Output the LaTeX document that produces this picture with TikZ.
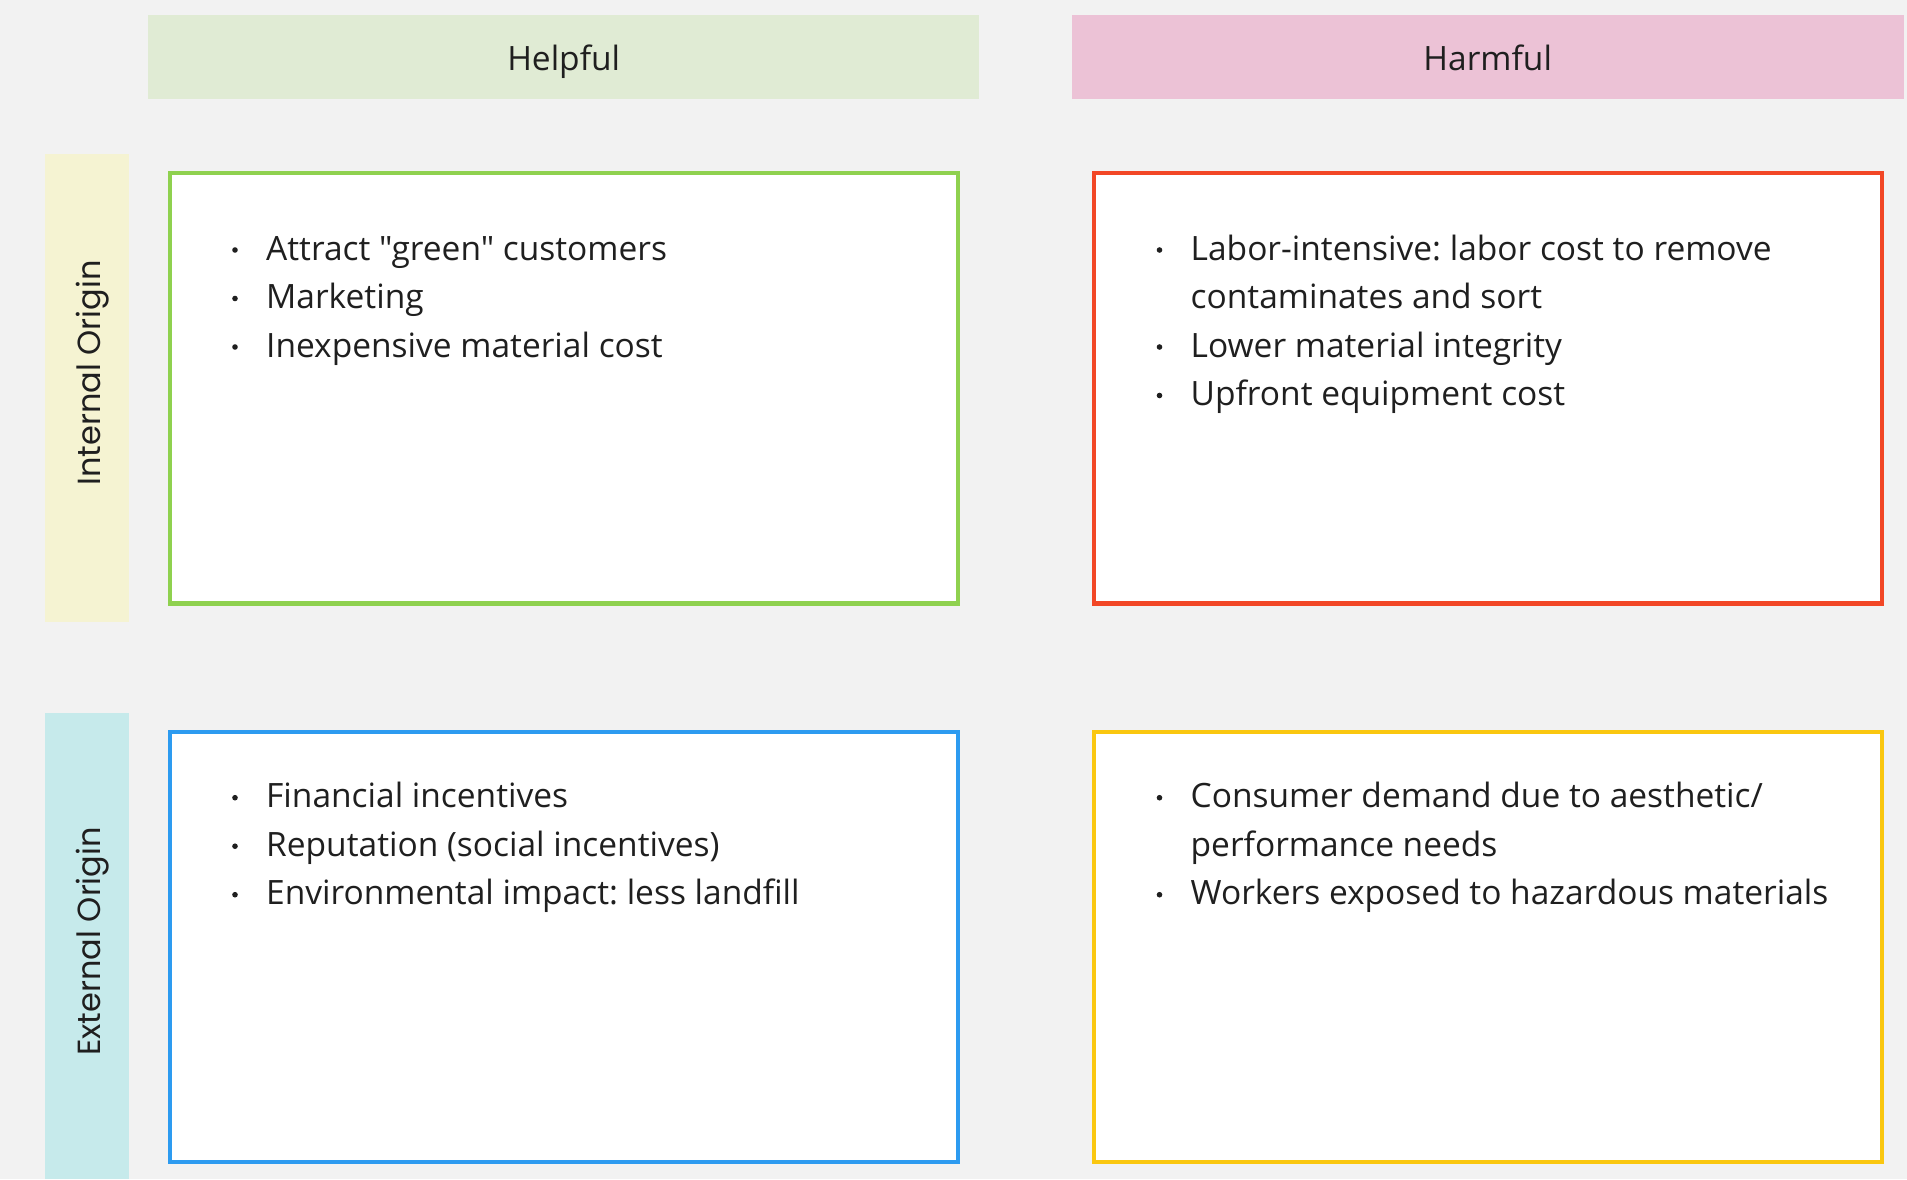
\documentclass[tikz,border=0pt]{standalone}
\usepackage{fontspec}
% text family without the TeX quote mapping, so " stays a straight quote
\newfontfamily\bodyfont{Open Sans}
\newfontfamily\sidefont{Poppins}
\frenchspacing

\definecolor{canvas}{HTML}{F2F2F2}
\definecolor{inkc}{HTML}{1F1F1F}
\definecolor{helpfulbg}{HTML}{E0EBD4}
\definecolor{harmfulbg}{HTML}{ECC2D6}
\definecolor{internalbg}{HTML}{F5F3D2}
\definecolor{externalbg}{HTML}{C6EAEB}
\definecolor{strengthc}{HTML}{8FD14F}
\definecolor{weaknessc}{HTML}{F24726}
\definecolor{opportunityc}{HTML}{2D9BF0}
\definecolor{threatc}{HTML}{FAC710}

\tikzset{
  bandbox/.style={rectangle, draw=none, inner sep=0pt, outer sep=0pt},
  quadbox/.style={rectangle, fill=white, line width=4.3pt, inner sep=0pt, outer sep=0pt,
                  minimum width=788pt},
  headtext/.style={anchor=base, inner sep=0pt, text=inkc,
                   font=\bodyfont\fontsize{33.5}{40}\selectfont},
  sidetext/.style={anchor=base, rotate=90, inner sep=0pt, text=inkc,
                   font=\sidefont\fontsize{32}{38}\selectfont},
  itemtext/.style={anchor=base west, inner sep=0pt, text=inkc,
                   font=\bodyfont\fontsize{33.5}{48}\selectfont},
  dot/.style={circle, fill=inkc, inner sep=0pt, minimum size=5.6pt},
}

\begin{document}
\begin{tikzpicture}[x=1pt,y=-1pt]
  % canvas
  \fill[canvas] (0,0) rectangle (1907,1179);
  \useasboundingbox (0,0) rectangle (1907,1179);

  % column headers
  \node[bandbox, fill=helpfulbg, minimum width=830.6pt, minimum height=83.5pt] (helpfulband) at (563.7,57.2) {};
  \node[headtext] (helpfultxt) at (563.7,70) {Helpful};
  \node[bandbox, fill=harmfulbg, minimum width=831.6pt, minimum height=83.5pt] (harmfulband) at (1487.7,57.2) {};
  \node[headtext] (harmfultxt) at (1487.7,70) {Harmful};

  % row headers
  \node[bandbox, fill=internalbg, minimum width=84pt, minimum height=467.2pt] (internalband) at (87.3,387.9) {};
  \node[sidetext] (internaltxt) at (100,373) {Internal Origin};
  \node[bandbox, fill=externalbg, minimum width=84pt, minimum height=466pt] (externalband) at (87.3,946.3) {};
  \node[sidetext] (externaltxt) at (100,941.5) {External Origin};

  % quadrants
  \node[quadbox, draw=strengthc,    minimum height=430.2pt] (strengths)     at (564,388.4) {};
  \node[quadbox, draw=weaknessc,    minimum height=430.2pt] (weaknesses)    at (1488.2,388.4) {};
  \node[quadbox, draw=opportunityc, minimum height=429.8pt] (opportunities) at (564,947.1) {};
  \node[quadbox, draw=threatc,      minimum height=429.8pt] (threats)       at (1488.2,947.1) {};

  % helpful / internal
  \node[dot] (s1d) at (235,250) {};
  \node[itemtext] (s1) at (266,260) {Attract "green" customers};
  \node[dot] (s2d) at (235,298.5) {};
  \node[itemtext] (s2) at (266,308.5) {Marketing};
  \node[dot] (s3d) at (235,347) {};
  \node[itemtext] (s3) at (266,357) {Inexpensive material cost};

  % harmful / internal
  \node[dot] (w1d) at (1159.5,250) {};
  \node[itemtext] (w1) at (1190.5,260) {Labor-intensive: labor cost to remove};
  \node[itemtext] (w1b) at (1190.5,308.5) {contaminates and sort};
  \node[dot] (w2d) at (1159.5,347) {};
  \node[itemtext] (w2) at (1190.5,357) {Lower material integrity};
  \node[dot] (w3d) at (1159.5,395.5) {};
  \node[itemtext] (w3) at (1190.5,405.5) {Upfront equipment cost};

  % helpful / external
  \node[dot] (o1d) at (235,797.7) {};
  \node[itemtext] (o1) at (266,807.7) {Financial incentives};
  \node[dot] (o2d) at (235,846.2) {};
  \node[itemtext] (o2) at (266,856.2) {Reputation (social incentives)};
  \node[dot] (o3d) at (235,894.7) {};
  \node[itemtext] (o3) at (266,904.7) {Environmental impact: less landfill};

  % harmful / external
  \node[dot] (t1d) at (1159.5,797.7) {};
  \node[itemtext] (t1) at (1190.5,807.7) {Consumer demand due to aesthetic/};
  \node[itemtext] (t1b) at (1190.5,856.2) {performance needs};
  \node[dot] (t2d) at (1159.5,894.7) {};
  \node[itemtext] (t2) at (1190.5,904.7) {Workers exposed to hazardous materials};
\end{tikzpicture}
\end{document}
